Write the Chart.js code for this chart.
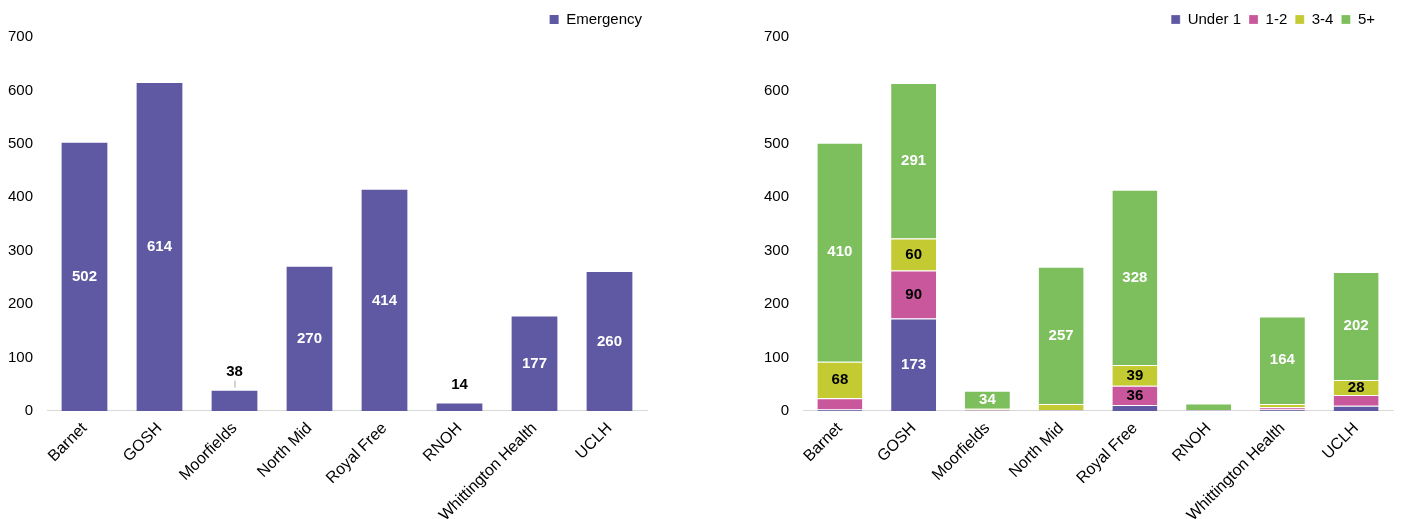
<!DOCTYPE html>
<html>
<head>
<meta charset="utf-8">
<script src="https://cdn.jsdelivr.net/npm/chart.js@4.4.0/dist/chart.umd.min.js"></script>
<style>
  html, body { margin: 0; padding: 0; background: #fff; }
  .wrap { display: flex; width: 1418px; height: 519px; }
  .box { position: relative; width: 709px; height: 519px; }
</style>
</head>
<body>
<div class="wrap">
  <div class="box"><canvas id="left"></canvas></div>
  <div class="box"><canvas id="right"></canvas></div>
</div>
<script>
// data
const hospitals = ["Barnet", "GOSH", "Moorfields", "North Mid", "Royal Free", "RNOH", "Whittington Health", "UCLH"];
const emergency = [502, 614, 38, 270, 414, 14, 177, 260];

const under1 = [3, 173, 1, 1, 11, 1, 3, 10];
const age1to2 = [21, 90, 2, 1, 36, 1, 4, 20];
const age3to4 = [68, 60, 1, 11, 39, 0, 6, 28];
const age5plus = [410, 291, 34, 257, 328, 12, 164, 202];

const purple = "#5F58A3";
const pink = "#C8579B";
const lime = "#C3CA32";
const green = "#7DBE5D";

Chart.defaults.font.family = "'Liberation Sans', Arial, sans-serif";
Chart.defaults.font.size = 15;
Chart.defaults.color = "#000";
Chart.defaults.animation = false;

// draws the value labels on the bars
const barLabels = {
  id: "barLabels",
  afterLayout(chart, args, opts) {
    // nudge the legend horizontally
    if (opts.legendShift) chart.legend.right -= opts.legendShift;
  },
  afterDatasetsDraw(chart, args, opts) {
    const ctx = chart.ctx;
    ctx.save();
    ctx.font = "bold 15px 'Liberation Sans', Arial, sans-serif";
    ctx.textAlign = "center";
    ctx.textBaseline = "middle";
    chart.data.datasets.forEach((ds, di) => {
      const meta = chart.getDatasetMeta(di);
      meta.data.forEach((bar, i) => {
        const v = ds.data[i];
        if (opts.stacked) {
          if (v < 25) return;
          ctx.fillStyle = ds.labelColor;
          ctx.fillText(v, bar.x, (bar.y + bar.base) / 2);
        } else if (v >= 100) {
          ctx.fillStyle = "#fff";
          ctx.fillText(v, bar.x, (bar.y + bar.base) / 2);
        } else {
          if (v > 20) {
            ctx.strokeStyle = "#a6a6a6";
            ctx.lineWidth = 1;
            ctx.beginPath();
            ctx.moveTo(bar.x + 0.5, bar.y - 3);
            ctx.lineTo(bar.x + 0.5, bar.y - 10);
            ctx.stroke();
          }
          ctx.fillStyle = "#000";
          ctx.fillText(v, bar.x, bar.y - 19);
        }
      });
    });
    ctx.restore();
  }
};

function baseOptions(stacked, yWidth, padRight, legendShift) {
  return {
    responsive: true,
    maintainAspectRatio: false,
    layout: { padding: { left: 0, right: padRight, top: 4, bottom: -6 } },
    plugins: {
      legend: {
        position: "top",
        align: "end",
        labels: { boxWidth: 9, boxHeight: 9, padding: 8, font: { size: 15 } }
      },
      tooltip: { enabled: false },
      barLabels: { stacked: stacked, legendShift: legendShift }
    },
    scales: {
      x: {
        stacked: stacked,
        grid: { display: false },
        border: { color: "#d9d9d9", width: 1 },
        ticks: { maxRotation: 45, minRotation: 45, padding: 0, font: { size: 16 } }
      },
      y: {
        stacked: stacked,
        min: 0,
        max: 700,
        grid: { display: false },
        border: { display: false },
        ticks: { stepSize: 100, padding: 6, font: { size: 15 } },
        afterFit(scale) { scale.width = yWidth; }
      }
    }
  };
}

new Chart(document.getElementById("left"), {
  type: "bar",
  data: {
    labels: hospitals,
    datasets: [{
      label: "Emergency",
      data: emergency,
      backgroundColor: purple,
      barPercentage: 0.61,
      categoryPercentage: 1
    }]
  },
  options: baseOptions(false, 47, 62, -3),
  plugins: [barLabels]
});

const stackDs = (label, data, color, labelColor) => ({
  label: label,
  data: data,
  backgroundColor: color,
  borderColor: "#ffffff",
  borderWidth: { top: 1 },
  labelColor: labelColor,
  barPercentage: 0.61,
  categoryPercentage: 1
});

new Chart(document.getElementById("right"), {
  type: "bar",
  data: {
    labels: hospitals,
    datasets: [
      stackDs("Under 1", under1, purple, "#fff"),
      stackDs("1-2", age1to2, pink, "#000"),
      stackDs("3-4", age3to4, lime, "#000"),
      stackDs("5+", age5plus, green, "#fff")
    ]
  },
  options: baseOptions(true, 94, 25, 10),
  plugins: [barLabels]
});
</script>
</body>
</html>
